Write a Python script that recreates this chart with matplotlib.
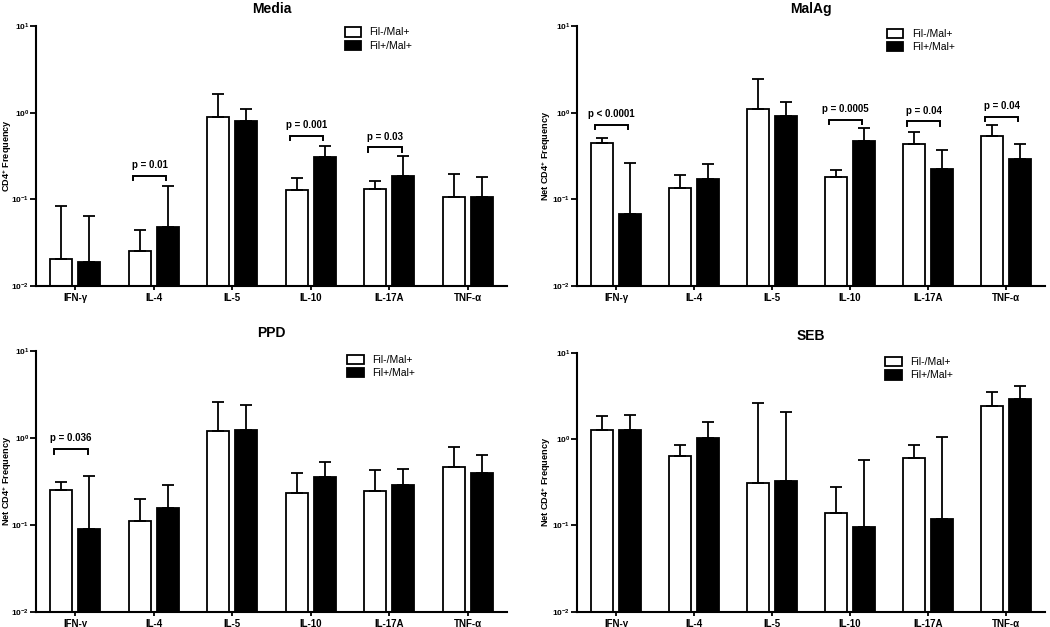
import matplotlib
matplotlib.use("Agg")
import matplotlib.pyplot as plt
import matplotlib.ticker as mticker
import numpy as np

plt.rcParams['font.family'] = ['Liberation Sans', 'DejaVu Sans']
plt.rcParams['mathtext.fontset'] = 'custom'
plt.rcParams['mathtext.rm'] = 'Liberation Sans'
plt.rcParams['mathtext.bf'] = 'Liberation Sans:bold'

# --- Data ---
cytokines = ['IFN-γ', 'IL-4', 'IL-5', 'IL-10', 'IL-17A', 'TNF-α']
groups = ['Fil-/Mal+', 'Fil+/Mal+']

# bar heights and upper error bar ends, per stimulus
media_neg = [0.0205, 0.0253, 0.90, 0.129, 0.133, 0.105]
media_neg_up = [0.0845, 0.0443, 1.64, 0.175, 0.164, 0.194]
media_pos = [0.0188, 0.0484, 0.81, 0.305, 0.1875, 0.105]
media_pos_up = [0.0637, 0.144, 1.11, 0.412, 0.313, 0.179]

malag_neg = [0.447, 0.136, 1.09, 0.181, 0.431, 0.533]
malag_neg_up = [0.51, 0.189, 2.42, 0.22, 0.594, 0.721]
malag_pos = [0.0675, 0.171, 0.925, 0.467, 0.222, 0.292]
malag_pos_up = [0.265, 0.258, 1.34, 0.673, 0.367, 0.431]

ppd_neg = [0.248, 0.110, 1.18, 0.229, 0.246, 0.464]
ppd_neg_up = [0.312, 0.197, 2.55, 0.393, 0.425, 0.788]
ppd_pos = [0.0883, 0.154, 1.22, 0.353, 0.283, 0.389]
ppd_pos_up = [0.362, 0.288, 2.39, 0.52, 0.432, 0.627]

seb_neg = [1.29, 0.634, 0.313, 0.140, 0.606, 2.45]
seb_neg_up = [1.87, 0.865, 2.65, 0.282, 0.849, 3.56]
seb_pos = [1.29, 1.02, 0.331, 0.096, 0.119, 2.95]
seb_pos_up = [1.91, 1.57, 2.07, 0.579, 1.06, 4.18]

# significance brackets: (cytokine index, bracket level, label)
media_sig = [(1, 0.1875, 'p = 0.01'), (3, 0.538, 'p = 0.001'), (4, 0.398, 'p = 0.03')]
malag_sig = [(0, 0.728, 'p < 0.0001'), (3, 0.832, 'p = 0.0005'),
             (4, 0.796, 'p = 0.04'), (5, 0.893, 'p = 0.04')]
ppd_sig = [(0, 0.741, 'p = 0.036')]
seb_sig = []

panels = [
    ('Media', 'CD4$^{\\mathbf{+}}$ Frequency', media_neg, media_neg_up, media_pos, media_pos_up, media_sig),
    ('MalAg', 'Net CD4$^{\\mathbf{+}}$ Frequency', malag_neg, malag_neg_up, malag_pos, malag_pos_up, malag_sig),
    ('PPD', 'Net CD4$^{\\mathbf{+}}$ Frequency', ppd_neg, ppd_neg_up, ppd_pos, ppd_pos_up, ppd_sig),
    ('SEB', 'Net CD4$^{\\mathbf{+}}$ Frequency', seb_neg, seb_neg_up, seb_pos, seb_pos_up, seb_sig),
]

# axes rectangles in figure fractions
rects = [
    [0.0343, 0.5439, 0.4486, 0.4147],
    [0.5495, 0.5439, 0.4457, 0.4147],
    [0.0343, 0.0244, 0.4486, 0.4163],
    [0.5495, 0.0244, 0.4457, 0.4126],
]
legend_pos = [(0.655, 0.995), (0.662, 0.99), (0.66, 0.985), (0.658, 0.985)]
ylabel_x = [-0.047, -0.051, -0.047, -0.051]

fig = plt.figure(figsize=(10.5, 6.27), dpi=100)
x = np.arange(len(cytokines))
w = 0.28
off = 0.18


def log_fmt(v, pos):
    e = int(round(np.log10(v)))
    return r'$\mathbf{10^{%d}}$' % e


for (title, ylab, neg, neg_up, pos, pos_up, sig), rect, lp, yx in zip(panels, rects, legend_pos, ylabel_x):
    ax = fig.add_axes(rect)
    neg = np.array(neg)
    pos = np.array(pos)
    err_neg = [np.zeros(len(neg)), np.array(neg_up) - neg]
    err_pos = [np.zeros(len(pos)), np.array(pos_up) - pos]
    ekw = dict(elinewidth=1.3, capthick=1.3, ecolor='black')
    ax.bar(x - off, neg, w, color='white', edgecolor='black', linewidth=1.3,
           yerr=err_neg, capsize=4.5, error_kw=ekw, label=groups[0], zorder=2)
    ax.bar(x + off, pos, w, color='black', edgecolor='black', linewidth=1.3,
           yerr=err_pos, capsize=4.5, error_kw=ekw, label=groups[1], zorder=2)

    ax.set_yscale('log')
    ax.set_ylim(1e-2, 1e1)
    ax.set_xlim(-0.5, len(cytokines) - 0.5)
    ax.yaxis.set_major_locator(mticker.FixedLocator([1e-2, 1e-1, 1e0, 1e1]))
    ax.yaxis.set_major_formatter(mticker.FuncFormatter(log_fmt))
    ax.yaxis.set_minor_locator(mticker.NullLocator())
    ax.set_xticks(x)
    ax.set_xticklabels(cytokines, fontsize=7, fontweight='bold')
    ax.tick_params(axis='y', labelsize=6, length=4, width=1.3, pad=1)
    ax.tick_params(axis='x', length=3, width=1.3, pad=2)
    for s in ['top', 'right']:
        ax.spines[s].set_visible(False)
    for s in ['left', 'bottom']:
        ax.spines[s].set_linewidth(1.5)

    ax.set_title(title, fontsize=10, fontweight='bold', pad=9.5)
    ax.set_ylabel(ylab, fontsize=6.6, fontweight='bold')
    ax.yaxis.set_label_coords(yx, 0.5)

    for i, level, label in sig:
        x0 = i - 0.27
        x1 = i + 0.16
        drop = level * 10 ** (-4.5 / 86.7)
        ax.plot([x0, x0, x1, x1], [drop, level, level, drop], color='black',
                linewidth=1.4, solid_joinstyle='miter', zorder=3)
        ax.annotate(label, xy=((x0 + x1) / 2, level), xytext=(0, 4),
                    textcoords='offset points', ha='center', va='bottom',
                    fontsize=7, fontweight='bold')

    ax.legend(loc='upper left', bbox_to_anchor=lp, frameon=False, fontsize=7.5,
              handlelength=1.6, handleheight=1.0, borderaxespad=0,
              borderpad=0, labelspacing=0.3, handletextpad=0.8)

fig.savefig('out.png', dpi=100)
